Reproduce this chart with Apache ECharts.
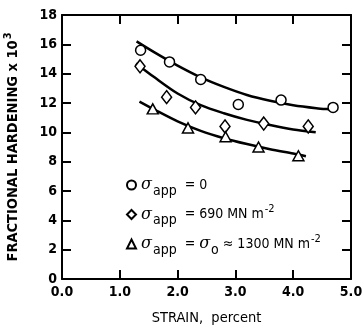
<!DOCTYPE html>
<html><head><meta charset="utf-8">
<script src="https://cdn.jsdelivr.net/npm/echarts@6/dist/echarts.min.js"></script>
<style>html,body{margin:0;padding:0;background:#fff}#c{width:362px;height:325px}</style>
</head><body><div id="c"></div>
<script>
const xTicks = ['0.0','1.0','2.0','3.0','4.0','5.0'];
const yTicks = [0,2,4,6,8,10,12,14,16,18];
// measured points: [strain, fractional hardening x 10^3]
const pts0    = [[1.36,15.6],[1.86,14.8],[2.40,13.6],[3.05,11.9],[3.79,12.2],[4.69,11.7]];
const pts690  = [[1.35,14.5],[1.81,12.4],[2.31,11.7],[2.82,10.4],[3.49,10.6],[4.26,10.4]];
const pts1300 = [[1.57,11.6],[2.18,10.3],[2.83,9.7],[3.40,9.0],[4.09,8.4]];
// fitted curves
const fit0    = [[1.29,16.2],[1.6,15.45],[2.0,14.55],[2.4,13.75],[2.8,13.1],[3.2,12.55],[3.6,12.15],[4.0,11.85],[4.4,11.65],[4.69,11.55]];
const fit690  = [[1.28,14.7],[1.6,13.75],[2.0,12.65],[2.4,11.85],[2.8,11.3],[3.2,10.85],[3.6,10.5],[4.0,10.2],[4.39,10.0]];
const fit1300 = [[1.34,12.1],[1.6,11.55],[2.0,10.75],[2.4,10.1],[2.8,9.6],[3.2,9.2],[3.6,8.85],[4.0,8.55],[4.22,8.37]];

const FONT = '"DejaVu Sans Condensed","Liberation Sans Narrow",sans-serif';
const legendText = {
  s0: '{s|σ}{sub|app}{t|  = 0}',
  s690: '{s|σ}{sub|app}{t|  = 690 MN m}{sup|-2}',
  s1300: '{s|σ}{sub|app}{t|  = }{s|σ}{sub|o}{t| ≈ 1300 MN m}{sup|-2}'
};
const chart = echarts.init(document.getElementById('c'));
const sym = {color:'#fff', borderColor:'#000', borderWidth:1.5, opacity:1};
const axisCommon = {
  axisLine:{show:true,onZero:false,lineStyle:{color:'#000',width:2}},
  axisTick:{show:true,inside:true,length:9,lineStyle:{color:'#000',width:2}},
  splitLine:{show:false}
};
chart.setOption({
  animation:false,
  textStyle:{fontFamily:FONT},
  grid:{left:62,right:11,top:15,bottom:46,outerBoundsMode:'none',containLabel:false},
  xAxis:[
    Object.assign({type:'value',min:0,max:5,interval:1,position:'bottom',
      name:'STRAIN,  percent',nameLocation:'middle',nameGap:32,
      nameTextStyle:{fontFamily:FONT,fontSize:14.5,color:'#000'},
      axisLabel:{formatter:v=>xTicks[Math.round(v)],fontFamily:FONT,fontSize:14,fontWeight:'bold',color:'#000',margin:6}},axisCommon),
    Object.assign({type:'value',min:0,max:5,interval:1,position:'top',axisLabel:{show:false}},axisCommon)
  ],
  yAxis:[
    Object.assign({type:'value',min:0,max:18,interval:2,position:'left',
      name:'FRACTIONAL HARDENING x 10{sup|3}',nameLocation:'middle',nameGap:39,
      nameTextStyle:{fontFamily:FONT,fontSize:14.5,fontWeight:'bold',color:'#000',rich:{sup:{fontSize:11,fontWeight:'bold',fontFamily:FONT,padding:[0,0,9,1]}}},
      axisLabel:{formatter:v=>yTicks.includes(v)?String(v):'',fontFamily:FONT,fontSize:14,fontWeight:'bold',color:'#000',margin:5}},axisCommon),
    Object.assign({type:'value',min:0,max:18,interval:2,position:'right',axisLabel:{show:false}},axisCommon)
  ],
  legend:{
    data:['s0','s690','s1300'],
    orient:'vertical',left:121,top:172,itemGap:6,itemWidth:9,itemHeight:9,
    formatter:n=>legendText[n],
    textStyle:{color:'#000',fontFamily:FONT,fontSize:14,
      rich:{
        s:{fontSize:16,fontStyle:'italic',fontFamily:'"DejaVu Serif",serif',color:'#000'},
        sub:{fontSize:14,fontFamily:FONT,color:'#000',padding:[12,0,0,1]},
        sup:{fontSize:11,fontFamily:FONT,color:'#000',padding:[0,0,10,1]},
        t:{fontSize:14,fontFamily:FONT,color:'#000'}
      }}
  },
  series:[
    {type:'line',data:fit0,smooth:0.3,showSymbol:false,lineStyle:{color:'#000',width:2.5},silent:true,z:1},
    {type:'line',data:fit690,smooth:0.3,showSymbol:false,lineStyle:{color:'#000',width:2.5},silent:true,z:1},
    {type:'line',data:fit1300,smooth:0.3,showSymbol:false,lineStyle:{color:'#000',width:2.5},silent:true,z:1},
    {name:'s0',type:'scatter',data:pts0,symbol:'circle',symbolSize:10,itemStyle:sym,z:3},
    {name:'s690',type:'scatter',data:pts690,symbol:'diamond',symbolSize:[10,13],itemStyle:sym,z:3},
    {name:'s1300',type:'scatter',data:pts1300,symbol:'triangle',symbolSize:[11,10],itemStyle:sym,z:3}
  ]
});
</script></body></html>
